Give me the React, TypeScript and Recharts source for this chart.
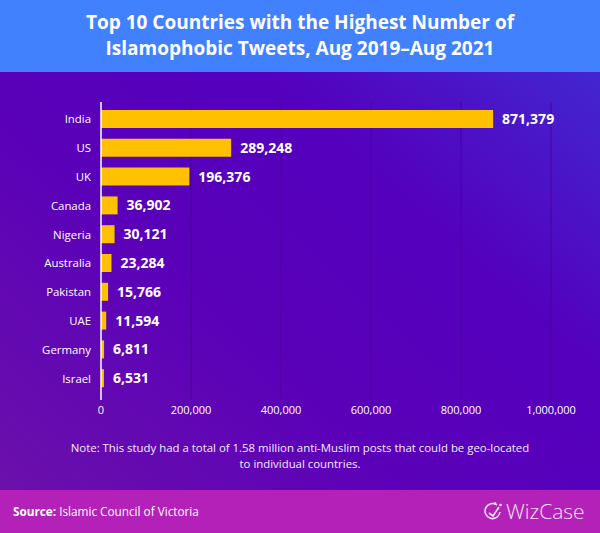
import React from "react";
import { BarChart, Bar, XAxis, YAxis, CartesianGrid, LabelList } from "recharts";

const countries = ["India", "US", "UK", "Canada", "Nigeria", "Australia", "Pakistan", "UAE", "Germany", "Israel"];
const tweets = [871379, 289248, 196376, 36902, 30121, 23284, 15766, 11594, 6811, 6531];
const xTicks = [0, 200000, 400000, 600000, 800000, 1000000];

const data = countries.map((name, i) => ({ name, value: tweets[i] }));

const font = "'Open Sans', 'Noto Sans', sans-serif";
const fmt = (v: number) => v.toLocaleString("en-US");

export default function App() {
  return (
    <div
      style={{
        position: "absolute",
        left: 0,
        top: 0,
        width: 600,
        height: 533,
        overflow: "hidden",
        fontFamily: font,
        background: "linear-gradient(to top right, #6d12a9 0%, #5a00b9 40%, #5400bd 65%, #3e2fd4 100%)",
      }}
    >
      <div
        style={{
          position: "absolute",
          left: 0,
          top: 0,
          width: 600,
          height: 72,
          background: "#4281fe",
          color: "#fff",
          fontWeight: 700,
          fontSize: 19,
          lineHeight: "26px",
          textAlign: "center",
          paddingTop: 9,
          boxSizing: "border-box",
        }}
      >
        Top 10 Countries with the Highest Number of
        <br />
        Islamophobic Tweets, Aug 2019–Aug 2021
      </div>

      <div style={{ position: "absolute", left: 0, top: 0 }}>
        <BarChart
          width={600}
          height={533}
          data={data}
          layout="vertical"
          margin={{ top: 102, right: 49, bottom: 103, left: 11 }}
        >
          <CartesianGrid horizontal={false} stroke="#4a0299" />
          <XAxis
            type="number"
            domain={[0, 1000000]}
            ticks={xTicks}
            tickFormatter={fmt}
            axisLine={false}
            tickLine={false}
            tickMargin={0}
            height={30}
            tick={{ fill: "#fff", fontSize: 11, fontFamily: font }}
          />
          <YAxis
            type="category"
            dataKey="name"
            width={90}
            axisLine={{ stroke: "#fff", strokeWidth: 1.5 }}
            tickLine={false}
            tickMargin={4}
            padding={{ top: 3, bottom: 7 }}
            tick={{ fill: "#fff", fontSize: 11.4, fontFamily: font }}
          />
          <Bar dataKey="value" fill="#ffc000" barSize={18} isAnimationActive={false}>
            <LabelList
              dataKey="value"
              position="right"
              offset={9}
              formatter={(v: any) => fmt(Number(v))}
              style={{ fill: "#fff", fontSize: 14, fontWeight: 700, fontFamily: font }}
            />
          </Bar>
        </BarChart>
      </div>

      <div
        style={{
          position: "absolute",
          left: 0,
          top: 440,
          width: 600,
          textAlign: "center",
          color: "#f4ecff",
          fontSize: 11.4,
          lineHeight: "16px",
          whiteSpace: "nowrap",
        }}
      >
        Note: This study had a total of 1.58 million anti-Muslim posts that could be geo-located
        <br />
        to individual countries.
      </div>

      <div
        style={{
          position: "absolute",
          left: 0,
          top: 490,
          width: 600,
          height: 43,
          background: "#b421b8",
          color: "#fff",
        }}
      >
        <div style={{ position: "absolute", left: 13, top: 13, fontSize: 11.75, lineHeight: "16px" }}>
          <b>Source:</b> Islamic Council of Victoria
        </div>
        <div
          style={{
            position: "absolute",
            left: 483,
            top: 6,
            display: "flex",
            alignItems: "center",
            color: "#f6e4f7",
          }}
        >
          <svg width={20} height={20} viewBox="0 0 20 20" style={{ marginRight: 3 }}>
            <path d="M 14 4 A 7.5 7.5 0 1 0 17 11" fill="none" stroke="#f6e4f7" strokeWidth={1.6} />
            <path d="M 6 12 L 10 15 L 16 6" fill="none" stroke="#f6e4f7" strokeWidth={1.6} />
            <circle cx={12} cy={2.5} r={1.3} fill="#f6e4f7" />
            <circle cx={17.5} cy={4} r={1.3} fill="#f6e4f7" />
            <circle cx={15} cy={7.5} r={1.1} fill="#f6e4f7" />
          </svg>
          <span style={{ fontSize: 21, fontWeight: 300, lineHeight: "30px" }}>WizCase</span>
        </div>
      </div>
    </div>
  );
}
